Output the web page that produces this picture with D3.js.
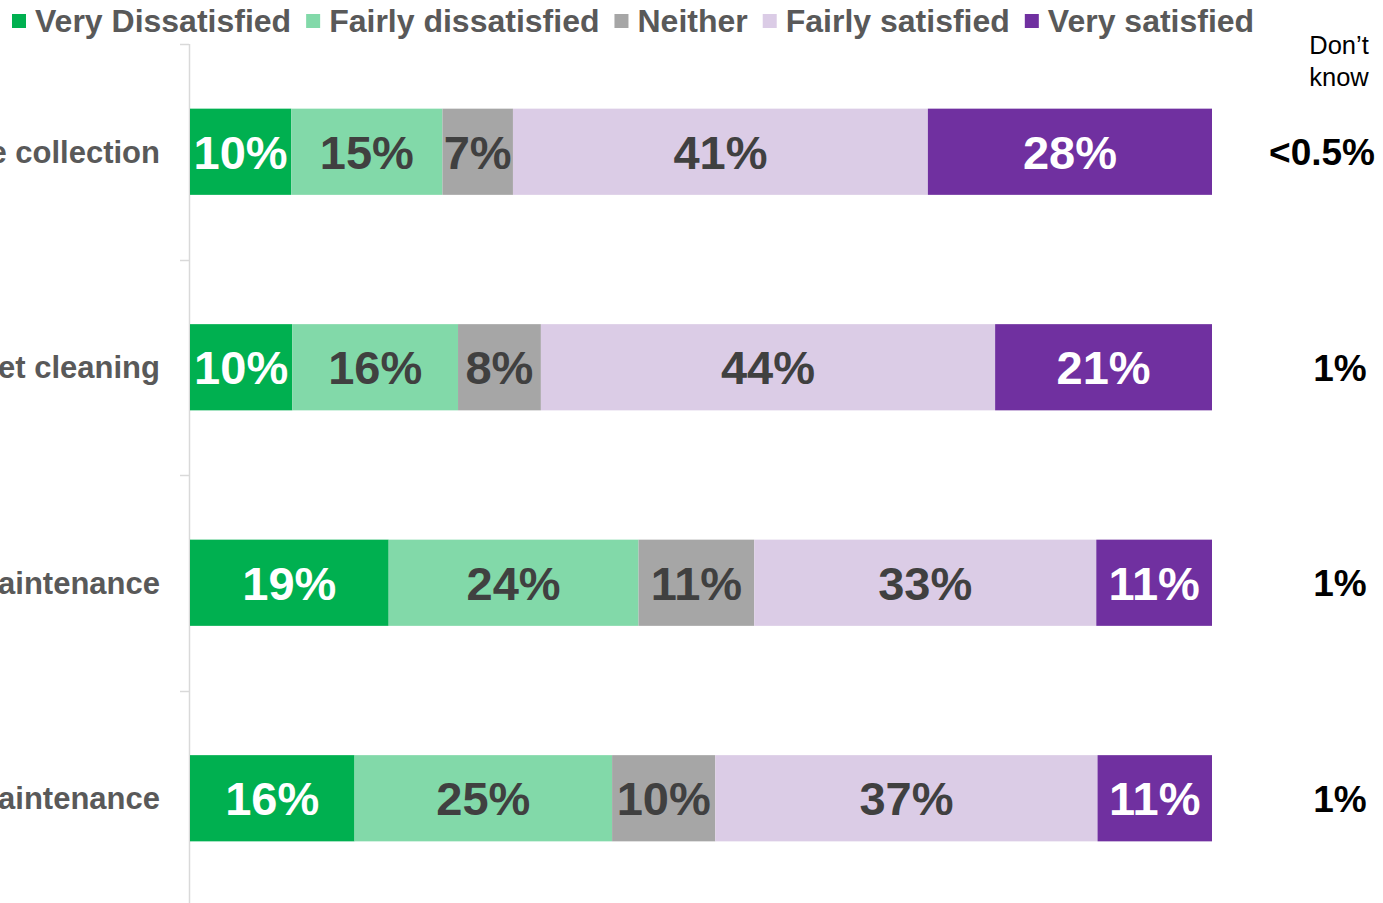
<!DOCTYPE html>
<html>
<head>
<meta charset="utf-8">
<script src="https://cdn.jsdelivr.net/npm/d3@7"></script>
<style>
  html, body { margin: 0; padding: 0; background: #fff; overflow: hidden; }
  svg { display: block; font-family: "Liberation Sans", Arial, sans-serif; }
</style>
</head>
<body>
<svg id="chart" width="1383" height="903"></svg>
<script>
// ---- data ----
const categories = ["Refuse collection", "Street cleaning", "Road maintenance", "Pavement maintenance"];
const seriesNames = ["Very Dissatisfied", "Fairly dissatisfied", "Neither", "Fairly satisfied", "Very satisfied"];
const veryDissatisfied   = [9.9, 10.0, 19.4, 16.1];
const fairlyDissatisfied = [14.8, 16.2, 24.4, 25.2];
const neither            = [6.9, 8.1, 11.3, 10.1];
const fairlySatisfied    = [40.6, 44.4, 33.4, 37.4];
const verySatisfied      = [27.8, 21.2, 11.3, 11.2];
const dontKnow = ["<0.5%", "1%", "1%", "1%"];
const dontKnowHeader = ["Don\u2019t", "know"];

const colors = ["#00B050", "#82D9A9", "#A6A6A6", "#DBCCE6", "#7030A0"];
const labelColors = ["#ffffff", "#404040", "#404040", "#404040", "#ffffff"];

const seriesValues = [veryDissatisfied, fairlyDissatisfied, neither, fairlySatisfied, verySatisfied];
const rows = categories.map((c, i) => {
  const o = { category: c };
  seriesNames.forEach((s, j) => o[s] = seriesValues[j][i]);
  return o;
});

const svg = d3.select("#chart");

const x = d3.scaleLinear().domain([0, 1]).range([190, 1212]);
const y = d3.scaleBand().domain(categories).range([44, 906]).paddingInner(0.6).paddingOuter(0.3);

const stack = d3.stack().keys(seriesNames).offset(d3.stackOffsetExpand);
const stacked = stack(rows);

// axis line and boundary ticks
const axisG = svg.append("g").attr("class", "axis");
axisG.append("line")
  .attr("x1", 189.5).attr("x2", 189.5).attr("y1", 44).attr("y2", 903)
  .attr("stroke", "#d9d9d9").attr("stroke-width", 1.5);
const boundaries = categories.map(c => y(c) - y.step() * y.paddingInner() / 2);
axisG.selectAll("line.tick").data(boundaries).enter().append("line")
  .attr("class", "tick")
  .attr("x1", 180).attr("x2", 189).attr("y1", d => Math.round(d) + 0.5).attr("y2", d => Math.round(d) + 0.5)
  .attr("stroke", "#d9d9d9").attr("stroke-width", 1.5);

// category labels (partly cut off at the left edge, as in the reference)
svg.append("g").selectAll("text").data(categories).enter().append("text")
  .attr("x", 160)
  .attr("y", d => y(d) + y.bandwidth() / 2)
  .attr("dy", "0.36em")
  .attr("text-anchor", "end")
  .attr("font-size", 31).attr("font-weight", "bold").attr("fill", "#595959")
  .text(d => d);

// bars
const layers = svg.append("g").selectAll("g").data(stacked).enter().append("g")
  .attr("fill", (d, i) => colors[i]);
layers.selectAll("rect").data(d => d).enter().append("rect")
  .attr("x", d => x(d[0]))
  .attr("y", d => y(d.data.category))
  .attr("width", d => x(d[1]) - x(d[0]))
  .attr("height", y.bandwidth());

// bar labels
const lab = svg.append("g").selectAll("g").data(stacked).enter().append("g")
  .attr("fill", (d, i) => labelColors[i]);
lab.selectAll("text").data(d => d.map(v => ({ v, key: d.key }))).enter().append("text")
  .attr("x", d => (x(d.v[0]) + x(d.v[1])) / 2)
  .attr("y", d => y(d.v.data.category) + y.bandwidth() / 2)
  .attr("dy", "0.36em")
  .attr("text-anchor", "middle")
  .attr("font-size", 47).attr("font-weight", "bold")
  .text(d => Math.round(d.v.data[d.key]) + "%");

// don't know header
svg.append("g").selectAll("text").data(dontKnowHeader).enter().append("text")
  .attr("x", 1339)
  .attr("y", (d, i) => 54 + i * 32)
  .attr("text-anchor", "middle")
  .attr("font-size", 25.5).attr("fill", "#000")
  .text(d => d);

// don't know values
svg.append("g").selectAll("text").data(dontKnow).enter().append("text")
  .attr("y", (d, i) => y(categories[i]) + y.bandwidth() / 2)
  .attr("dy", "0.36em")
  .attr("text-anchor", "middle")
  .attr("font-size", 37).attr("font-weight", "bold").attr("fill", "#000")
  .text(d => d)
  .each(function () {
    const w = this.getComputedTextLength();
    d3.select(this).attr("x", Math.min(1340, 1375 - w / 2));
  });

// legend
const legend = svg.append("g");
let lx = 12;
seriesNames.forEach((s, i) => {
  legend.append("rect").attr("x", lx).attr("y", 14).attr("width", 14).attr("height", 14).attr("fill", colors[i]);
  const t = legend.append("text").attr("x", lx + 23).attr("y", 32)
    .attr("font-size", 32).attr("font-weight", "bold").attr("fill", "#595959").text(s);
  lx += 23 + t.node().getComputedTextLength() + 15;
});
</script>
</body>
</html>
